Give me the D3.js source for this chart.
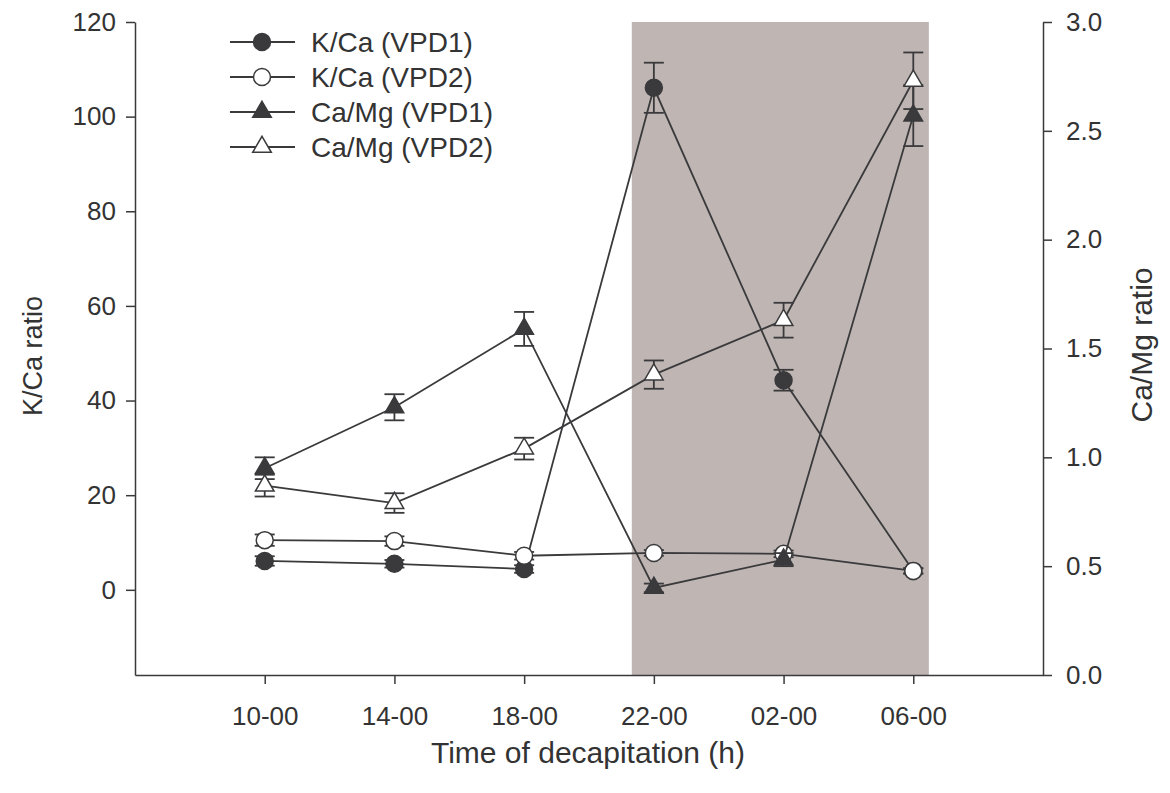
<!DOCTYPE html>
<html>
<head>
<meta charset="utf-8">
<script src="https://cdn.jsdelivr.net/npm/d3@7"></script>
<style>
  body { margin: 0; background: #fff; }
  text { font-family: "Liberation Sans", Arial, sans-serif; fill: #333; }
</style>
</head>
<body>
<div id="chart"></div>
<script>
// Chart data
var times = ["10-00", "14-00", "18-00", "22-00", "02-00", "06-00"];

var kcaVpd1 = [6.1, 5.5, 4.4, 106.1, 44.3, 4.0];
var kcaVpd1Err = [1.0, 0.8, 0.8, 5.3, 2.2, 0.6];
var kcaVpd2 = [10.5, 10.3, 7.2, 7.8, 7.6, 4.0];
var kcaVpd2Err = [1.2, 1.0, 0.8, 0.6, 0.7, 0.5];

var camgVpd1 = [0.95, 1.23, 1.59, 0.40, 0.53, 2.57];
var camgVpd1Err = [0.05, 0.06, 0.078, 0.02, 0.03, 0.14];
var camgVpd2 = [0.87, 0.79, 1.04, 1.38, 1.63, 2.73];
var camgVpd2Err = [0.05, 0.045, 0.05, 0.065, 0.08, 0.13];

// dark period, in units of the time index
var darkBand = [2.83, 5.12];

var leftTicks = [0, 20, 40, 60, 80, 100, 120];
var rightTicks = [0, 0.5, 1.0, 1.5, 2.0, 2.5, 3.0];

// SVG area
var svgWidth = 1170;
var svgHeight = 793;
var margin = { top: 22, right: 127, bottom: 118, left: 135 };
var chartWidth = svgWidth - margin.left - margin.right;
var chartHeight = svgHeight - margin.top - margin.bottom;
var ink = "#3a3a3c";

var svg = d3.select("#chart")
  .append("svg")
  .attr("width", svgWidth)
  .attr("height", svgHeight);

var chartGroup = svg.append("g")
  .attr("transform", `translate(${margin.left}, ${margin.top})`);

// Scales
var xScale = d3.scaleLinear().domain([-1, 6]).range([0, chartWidth]);
var yLeft = d3.scaleLinear().domain([-18, 120]).range([chartHeight, 0]);
var yRight = d3.scaleLinear().domain([0, 3]).range([chartHeight, 0]);

// Shaded night band
chartGroup.append("rect")
  .attr("x", xScale(darkBand[0]))
  .attr("y", 0)
  .attr("width", xScale(darkBand[1]) - xScale(darkBand[0]))
  .attr("height", chartHeight)
  .attr("fill", "#bfb6b3");

// Axes
var bottomAxis = d3.axisBottom(xScale)
  .tickValues(d3.range(times.length))
  .tickFormat(i => times[i])
  .tickSizeInner(9).tickSizeOuter(0).tickPadding(23);
var leftAxis = d3.axisLeft(yLeft)
  .tickValues(leftTicks).tickSizeInner(9).tickSizeOuter(0).tickPadding(10);
var rightAxis = d3.axisRight(yRight)
  .tickValues(rightTicks).tickFormat(d3.format(".1f"))
  .tickSizeInner(9).tickSizeOuter(0).tickPadding(14);

function styleAxis(g) {
  g.selectAll("path, line").attr("stroke", ink).attr("stroke-width", 1.5);
  g.selectAll("text").attr("font-size", 26).attr("fill", "#333")
    .attr("font-family", "Liberation Sans, Arial, sans-serif");
}

chartGroup.append("g").call(leftAxis).call(styleAxis);
chartGroup.append("g")
  .attr("transform", `translate(${chartWidth}, 0)`)
  .call(rightAxis).call(styleAxis);
chartGroup.append("g")
  .attr("transform", `translate(0, ${chartHeight})`)
  .call(bottomAxis).call(styleAxis);

// Series
var series = [
  { name: "K/Ca (VPD1)", values: kcaVpd1, err: kcaVpd1Err, y: yLeft, shape: "circle", fill: ink },
  { name: "K/Ca (VPD2)", values: kcaVpd2, err: kcaVpd2Err, y: yLeft, shape: "circle", fill: "#fff" },
  { name: "Ca/Mg (VPD1)", values: camgVpd1, err: camgVpd1Err, y: yRight, shape: "triangle", fill: ink },
  { name: "Ca/Mg (VPD2)", values: camgVpd2, err: camgVpd2Err, y: yRight, shape: "triangle", fill: "#fff" }
];

var circleSym = d3.symbol().type(d3.symbolCircle).size(Math.PI * 8.5 * 8.5);
var triSym = d3.symbol().type(d3.symbolTriangle).size(150);

function markerPath(shape) {
  return shape === "circle" ? circleSym() : triSym();
}

var line = d3.line();

series.forEach(function(s) {
  var g = chartGroup.append("g");
  var pts = s.values.map((v, i) => [xScale(i), s.y(v)]);

  g.append("path")
    .attr("d", line(pts))
    .attr("fill", "none")
    .attr("stroke", ink)
    .attr("stroke-width", 1.8);

  // error bars
  s.values.forEach(function(v, i) {
    var x = xScale(i);
    var y1 = s.y(v + s.err[i]);
    var y2 = s.y(v - s.err[i]);
    var eb = g.append("g").attr("stroke", ink).attr("stroke-width", 1.8);
    eb.append("line").attr("x1", x).attr("x2", x).attr("y1", y1).attr("y2", y2);
    eb.append("line").attr("x1", x - 10).attr("x2", x + 10).attr("y1", y1).attr("y2", y1);
    eb.append("line").attr("x1", x - 10).attr("x2", x + 10).attr("y1", y2).attr("y2", y2);
  });

  g.selectAll(".marker")
    .data(pts)
    .enter()
    .append("path")
    .attr("transform", d => `translate(${d[0]}, ${d[1]})`)
    .attr("d", markerPath(s.shape))
    .attr("fill", s.fill)
    .attr("stroke", ink)
    .attr("stroke-width", 1.5);
});

// Legend
var legend = svg.append("g").attr("transform", "translate(230, 42)");
series.forEach(function(s, i) {
  var row = legend.append("g").attr("transform", `translate(0, ${i * 35})`);
  row.append("line")
    .attr("x1", 0).attr("x2", 65).attr("y1", 0).attr("y2", 0)
    .attr("stroke", ink).attr("stroke-width", 1.8);
  row.append("path")
    .attr("transform", "translate(32, 0)")
    .attr("d", markerPath(s.shape))
    .attr("fill", s.fill)
    .attr("stroke", ink)
    .attr("stroke-width", 1.5);
  row.append("text")
    .attr("x", 81)
    .attr("y", 0)
    .attr("dy", "0.35em")
    .attr("font-size", 28)
    .text(s.name);
});

// Axis titles
svg.append("text")
  .attr("transform", `translate(42, 356) rotate(-90)`)
  .attr("text-anchor", "middle")
  .attr("font-size", 27)
  .text("K/Ca ratio");

svg.append("text")
  .attr("transform", `translate(1152, 345) rotate(-90)`)
  .attr("text-anchor", "middle")
  .attr("font-size", 30)
  .text("Ca/Mg ratio");

svg.append("text")
  .attr("x", 588)
  .attr("y", 763)
  .attr("text-anchor", "middle")
  .attr("font-size", 30)
  .text("Time of decapitation (h)");
</script>
</body>
</html>
